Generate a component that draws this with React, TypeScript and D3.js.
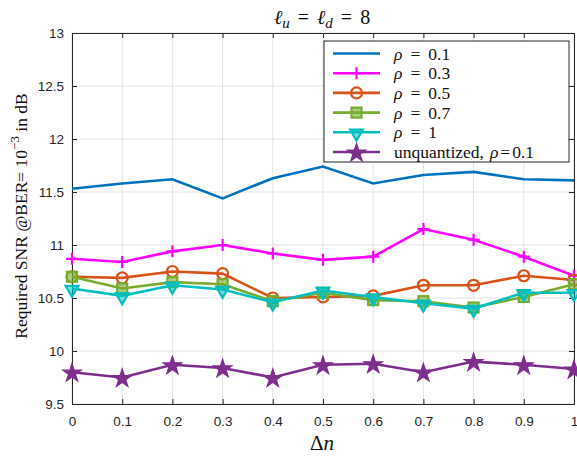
import React, { useEffect, useRef } from 'react';
import * as d3 from 'd3';

// x values (Δn)
const deltaN = [0, 0.1, 0.2, 0.3, 0.4, 0.5, 0.6, 0.7, 0.8, 0.9, 1];

// required SNR per series
const rho01 = [11.53, 11.58, 11.62, 11.44, 11.63, 11.74, 11.58, 11.66, 11.69, 11.62, 11.61];
const rho03 = [10.87, 10.84, 10.94, 11.0, 10.92, 10.86, 10.89, 11.15, 11.05, 10.89, 10.71];
const rho05 = [10.7, 10.69, 10.75, 10.73, 10.5, 10.51, 10.52, 10.62, 10.62, 10.71, 10.67];
const rho07 = [10.7, 10.59, 10.65, 10.63, 10.47, 10.55, 10.48, 10.47, 10.41, 10.51, 10.63];
const rho1 = [10.59, 10.52, 10.62, 10.58, 10.46, 10.57, 10.51, 10.45, 10.4, 10.55, 10.55];
const unquant = [9.8, 9.75, 9.87, 9.84, 9.75, 9.87, 9.88, 9.8, 9.9, 9.87, 9.83];

const xTicks = [0, 0.1, 0.2, 0.3, 0.4, 0.5, 0.6, 0.7, 0.8, 0.9, 1];
const yTicks = [9.5, 10, 10.5, 11, 11.5, 12, 12.5, 13];

const rhoValues = ['0.1', '0.3', '0.5', '0.7', '1', '0.1'];
const series = [
  { values: rho01, color: '#0072BD', marker: 'none' },
  { values: rho03, color: '#FF00FF', marker: 'plus' },
  { values: rho05, color: '#D95319', marker: 'circle' },
  { values: rho07, color: '#77AC30', marker: 'square' },
  { values: rho1, color: '#00BFBF', marker: 'triangle' },
  { values: unquant, color: '#7E2F8E', marker: 'star', prefix: 'unquantized,' },
];

type Part = { t: string; italic?: boolean; size?: number; dy?: number; gap?: number };

const serif = '"Liberation Serif", "Times New Roman", serif';

// lays out a formula as separate text pieces, returns total width
function drawParts(parent: any, x0: number, y0: number, parts: Part[], size: number, anchor = 'start') {
  const g = parent.append('g');
  let cx = 0;
  parts.forEach(p => {
    cx += p.gap || 0;
    const t = g.append('text').attr('x', cx).attr('y', p.dy || 0)
      .attr('font-family', serif).attr('font-size', p.size || size)
      .attr('font-style', p.italic ? 'italic' : 'normal').attr('fill', '#111').text(p.t);
    cx += (t.node() as SVGTextElement).getComputedTextLength();
  });
  const shift = anchor === 'middle' ? -cx / 2 : 0;
  g.attr('transform', `translate(${x0 + shift},${y0})`);
  return cx;
}

export default function App() {
  const ref = useRef<SVGSVGElement>(null);

  useEffect(() => {
    const width = 577;
    const height = 456;
    const margin = { top: 33, right: 3, bottom: 52, left: 72 };
    const w = width - margin.left - margin.right;
    const h = height - margin.top - margin.bottom;

    const root = d3.select(ref.current);
    root.selectAll('*').remove();
    root.attr('width', width).attr('height', height);
    root.append('rect').attr('width', width).attr('height', height).attr('fill', 'white');

    const svg = root.append('g').attr('transform', `translate(${margin.left},${margin.top})`);

    const x = d3.scaleLinear().domain([0, 1]).range([0, w]);
    const y = d3.scaleLinear().domain([9.5, 13]).range([h, 0]);

    // grid
    svg.append('g').selectAll('line.gx').data(xTicks).enter().append('line')
      .attr('x1', d => x(d)).attr('x2', d => x(d)).attr('y1', 0).attr('y2', h)
      .attr('stroke', '#e3e3e3').attr('stroke-width', 1);
    svg.append('g').selectAll('line.gy').data(yTicks).enter().append('line')
      .attr('x1', 0).attr('x2', w).attr('y1', d => y(d)).attr('y2', d => y(d))
      .attr('stroke', '#e3e3e3').attr('stroke-width', 1);

    const axisColor = '#262626';
    const font = '"Liberation Sans", Arial, sans-serif';

    // axes with inward ticks
    const xAxis = d3.axisBottom(x).tickValues(xTicks).tickSizeInner(-5).tickSizeOuter(0)
      .tickPadding(12).tickFormat(d => d3.format('')(+d));
    const gx = svg.append('g').attr('transform', `translate(0,${h})`).call(xAxis);
    const yAxis = d3.axisLeft(y).tickValues(yTicks).tickSizeInner(-5).tickSizeOuter(0)
      .tickPadding(8).tickFormat(d => d3.format('')(+d));
    const gy = svg.append('g').call(yAxis);
    const xTop = d3.axisTop(x).tickValues(xTicks).tickSizeInner(-5).tickSizeOuter(0).tickFormat(() => '');
    const gxt = svg.append('g').call(xTop);
    const yRight = d3.axisRight(y).tickValues(yTicks).tickSizeInner(-5).tickSizeOuter(0).tickFormat(() => '');
    const gyr = svg.append('g').attr('transform', `translate(${w},0)`).call(yRight);

    [gx, gy, gxt, gyr].forEach(g => {
      g.select('.domain').attr('stroke', axisColor).attr('stroke-width', 1);
      g.selectAll('.tick line').attr('stroke', axisColor);
      g.selectAll('.tick text').attr('fill', axisColor).style('font-family', font).style('font-size', '13.5px');
    });

    // lines
    const line = d3.line<number>().x((_, i) => x(deltaN[i])).y(d => y(d));
    const star = d3.symbol().type(d3.symbolStar).size(105);
    const tri = d3.symbol().type(d3.symbolTriangle).size(70);

    const drawMarker = (g: any, kind: string, cx: number, cy: number, color: string) => {
      if (kind === 'plus') {
        g.append('path').attr('d', `M${cx - 6},${cy}H${cx + 6}M${cx},${cy - 6}V${cy + 6}`)
          .attr('stroke', color).attr('stroke-width', 2.2).attr('fill', 'none');
      } else if (kind === 'circle') {
        g.append('circle').attr('cx', cx).attr('cy', cy).attr('r', 5.5)
          .attr('stroke', color).attr('stroke-width', 2.2).attr('fill', 'none');
      } else if (kind === 'square') {
        g.append('rect').attr('x', cx - 5).attr('y', cy - 5).attr('width', 10).attr('height', 10)
          .attr('stroke', color).attr('stroke-width', 2.2).attr('fill', color).attr('fill-opacity', 0.6);
      } else if (kind === 'triangle') {
        g.append('path').attr('d', tri).attr('transform', `translate(${cx},${cy + 1}) rotate(180)`)
          .attr('stroke', color).attr('stroke-width', 2.2).attr('fill', color).attr('fill-opacity', 0.5);
      } else if (kind === 'star') {
        g.append('path').attr('d', star).attr('transform', `translate(${cx},${cy + 1})`)
          .attr('stroke', color).attr('stroke-width', 1.2).attr('fill', color);
      }
    };

    series.forEach(s => {
      const g = svg.append('g');
      g.append('path').datum(s.values).attr('d', line)
        .attr('fill', 'none').attr('stroke', s.color).attr('stroke-width', 2.6);
      s.values.forEach((v, i) => drawMarker(g, s.marker, x(deltaN[i]), y(v), s.color));
    });

    // legend
    const lx = 324 - margin.left;
    const ly = 41 - margin.top;
    const leg = svg.append('g');
    leg.append('rect').attr('x', lx).attr('y', ly).attr('width', 245).attr('height', 121)
      .attr('fill', 'white').attr('stroke', axisColor).attr('stroke-width', 1);
    series.forEach((s, i) => {
      const ry = ly + 12.5 + i * 19.7;
      leg.append('line').attr('x1', lx + 9).attr('x2', lx + 56).attr('y1', ry).attr('y2', ry)
        .attr('stroke', s.color).attr('stroke-width', 2.6);
      drawMarker(leg, s.marker, lx + 32.5, ry, s.color);
      const parts: Part[] = s.prefix
        ? [{ t: s.prefix }, { t: 'ρ', italic: true, gap: 6 }, { t: '=', gap: 2 }, { t: rhoValues[i], gap: 2 }]
        : [{ t: 'ρ', italic: true }, { t: '=', gap: 8 }, { t: rhoValues[i], gap: 8 }];
      drawParts(leg, lx + 70, ry + 6, parts, 17.5);
    });

    // title
    drawParts(root, 322, 24, [
      { t: 'ℓ', italic: true },
      { t: 'u', italic: true, size: 15, dy: 4 },
      { t: '=', gap: 8 },
      { t: 'ℓ', italic: true, gap: 8 },
      { t: 'd', italic: true, size: 15, dy: 4 },
      { t: '=', gap: 8 },
      { t: '8', gap: 8 },
    ], 20, 'middle');

    // x label
    drawParts(root, 322, 450, [{ t: 'Δ' }, { t: 'n', italic: true }], 21, 'middle');

    // y label
    const yl = root.append('text').attr('transform', 'translate(27,216) rotate(-90)')
      .attr('text-anchor', 'middle')
      .attr('font-family', serif).attr('font-size', 17.5).attr('fill', '#111');
    yl.append('tspan').text('Required SNR @BER= 10');
    yl.append('tspan').text('−3').attr('font-size', 13).attr('dy', -8);
    yl.append('tspan').text(' in dB').attr('dy', 8);
  }, []);

  return (
    <svg ref={ref} style={{ position: 'absolute', left: 0, top: 0, display: 'block' }} />
  );
}
